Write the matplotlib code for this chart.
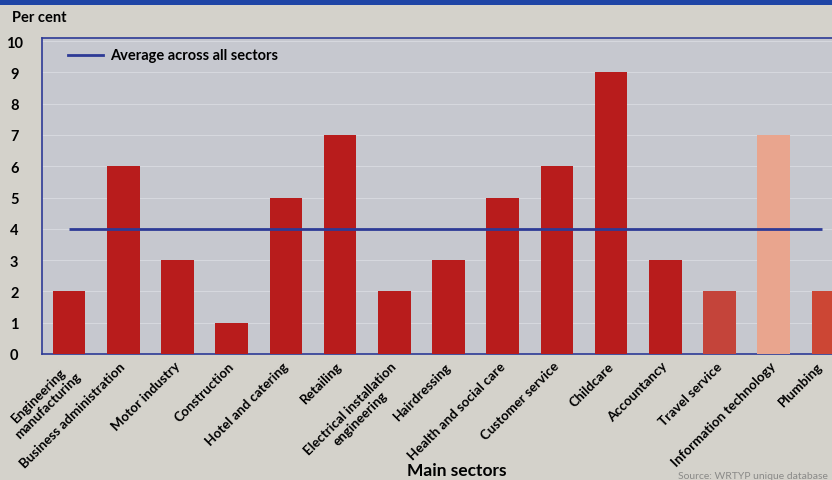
import numpy as np
import matplotlib.pyplot as plt
import matplotlib.transforms as mtransforms
from matplotlib.patches import Rectangle

# Share of apprentices by main sector, per cent
sectors = [
    "Engineering\nmanufacturing",
    "Business administration",
    "Motor industry",
    "Construction",
    "Hotel and catering",
    "Retailing",
    "Electrical installation\nengineering",
    "Hairdressing",
    "Health and social care",
    "Customer service",
    "Childcare",
    "Accountancy",
    "Travel service",
    "Information technology",
    "Plumbing",
]
share = [2, 6, 3, 1, 5, 7, 2, 3, 5, 6, 9, 3, 2, 7, 2]
average_share = 4
y_ticks = list(range(0, 11))

bar_red = "#b81c1c"
bar_colors = [bar_red] * len(sectors)
bar_colors[12] = "#c4443a"
bar_colors[13] = "#e9a58e"
bar_colors[14] = "#cc4634"

outer_bg = "#d4d2cb"
plot_bg = "#c6c8cf"
navy = "#2d3a96"

plt.rcParams["font.family"] = ["Lato", "DejaVu Sans"]
plt.rcParams["font.weight"] = "bold"

W, H = 832, 481
fig = plt.figure(figsize=(W / 100, H / 100), dpi=100, facecolor=outer_bg)

# blue band along the top edge
fig.patches.append(Rectangle((0, 1 - 6 / H), 1, 6 / H, transform=fig.transFigure,
                             facecolor="#1f45a6", edgecolor="none"))

left_px, top_px, bottom_px = 42, 39, 355
step_px = 54.2
ax = fig.add_axes([left_px / W, 1 - bottom_px / H, (W - left_px) / W, (bottom_px - top_px) / H])
ax.set_facecolor(plot_bg)

x = np.arange(len(sectors))
ax.bar(x, share, width=0.6, color=bar_colors, zorder=3)
ax.hlines(average_share, x[0], x[-1] - 0.1, color=navy, lw=2, zorder=4)

ax.set_xlim(-0.5, -0.5 + (W - left_px) / step_px)
ax.set_ylim(0, 10.1)

ax.set_yticks(y_ticks)
ax.set_yticklabels([str(t) for t in y_ticks], fontsize=10.5, fontweight="bold", ha="center")
ax.tick_params(axis="y", length=0, pad=20)
ax.grid(axis="y", color="#d6d8de", lw=0.8, zorder=1)

ax.set_xticks(x)
ax.set_xticklabels(sectors, rotation=45, ha="right", va="top", rotation_mode="anchor",
                   multialignment="center", fontsize=9.6, fontweight="bold")
ax.tick_params(axis="x", length=0, pad=4)
labels = ax.get_xticklabels()
for i, lbl in enumerate(labels):
    # the last label sits at the page edge, pull it in a little further
    dx = -12 if i == len(labels) - 1 else -4
    lbl.set_transform(lbl.get_transform() + mtransforms.ScaledTranslation(dx / 100, 0, fig.dpi_scale_trans))

for side in ["top", "left", "bottom"]:
    ax.spines[side].set_color(navy)
    ax.spines[side].set_linewidth(1.2)
ax.spines["right"].set_visible(False)

# legend entry for the average line
ax.plot([-0.02, 0.63], [9.55, 9.55], color=navy, lw=2, zorder=5)
ax.text(0.76, 9.55, "Average across all sectors", fontsize=10.5, fontweight="bold",
        va="center", ha="left", zorder=5)

fig.text(12 / W, 1 - 18 / H, "Per cent", fontsize=10.5, fontweight="bold", va="center", ha="left")
fig.text(457 / W, 1 - 471 / H, "Main sectors", fontsize=12.5, fontweight="bold", va="center", ha="center")
fig.text(828 / W, 1 - 477 / H, "Source: WRTYP unique database", fontsize=7.5, fontweight="normal",
         color="#8a8a88", va="center", ha="right")

fig.savefig("out.png", dpi=100, facecolor=outer_bg)
